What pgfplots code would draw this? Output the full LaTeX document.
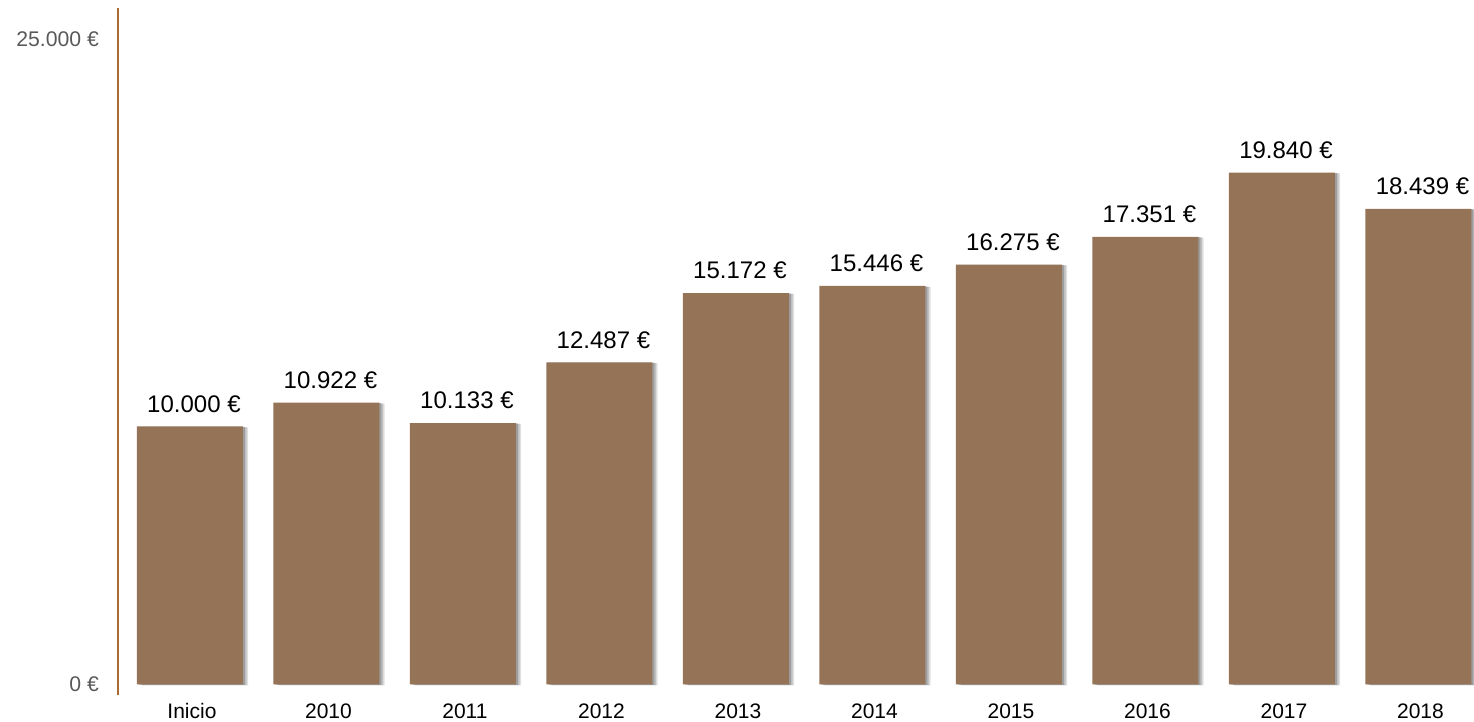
\documentclass[border=0pt]{standalone}
\usepackage{pgfplots}
\pgfplotsset{compat=1.18}
\usepackage{fontspec}
\setmainfont{Liberation Sans}
\usetikzlibrary{shadows}

\definecolor{barbrown}{RGB}{149,115,86}
\definecolor{axisbrown}{RGB}{168,107,50}
\definecolor{ticklabgray}{RGB}{89,89,89}

\begin{document}
\begin{tikzpicture}
\useasboundingbox (-59pt,-13.5pt) rectangle (678pt,347.5pt);
\begin{axis}[
  scale only axis,
  width=678pt, height=343.5pt,
  anchor=south west, at={(0,0)},
  xmin=-0.527, xmax=9.407,
  ymin=-407, ymax=26221,
  axis y line*=left,
  axis x line*=bottom,
  x axis line style={draw=none},
  y axis line style={draw=axisbrown, line width=1pt},
  tick style={draw=none},
  xtick=data,
  xticklabels={Inicio,2010,2011,2012,2013,2014,2015,2016,2017,2018},
  xticklabel style={font=\fontsize{10.5}{12}\selectfont, text=black,
    text height=7.6pt, text depth=0pt, yshift=3.5pt, xshift=1pt},
  ytick={0,25000},
  yticklabels={0 €,25.000 €},
  yticklabel style={font=\fontsize{10.6}{12}\selectfont, text=ticklabgray, xshift=-6pt},
  /pgf/number format/assume math mode=true,
  ybar, bar width=53pt,
  nodes near coords={\pgfmathprintnumber[fixed,precision=0,1000 sep={.}]{\pgfplotspointmeta}~€},
  every node near coord/.append style={font=\fontsize{12}{14}\selectfont, text=black,
    yshift=3.5pt, xshift=2pt},
  clip=false,
]
% bars with a soft shadow built from a few offset layers
\addplot[fill=barbrown, draw=none,
  drop shadow={shadow xshift=2.6pt, shadow yshift=-0.4pt, opacity=0.12, fill=black},
  drop shadow={shadow xshift=1.8pt, shadow yshift=-0.3pt, opacity=0.15, fill=black},
  drop shadow={shadow xshift=1.0pt, shadow yshift=-0.2pt, opacity=0.18, fill=black}]
  coordinates {
  (0,10000) (1,10922) (2,10133) (3,12487) (4,15172)
  (5,15446) (6,16275) (7,17351) (8,19840) (9,18439)
};
\end{axis}
\end{tikzpicture}
\end{document}
